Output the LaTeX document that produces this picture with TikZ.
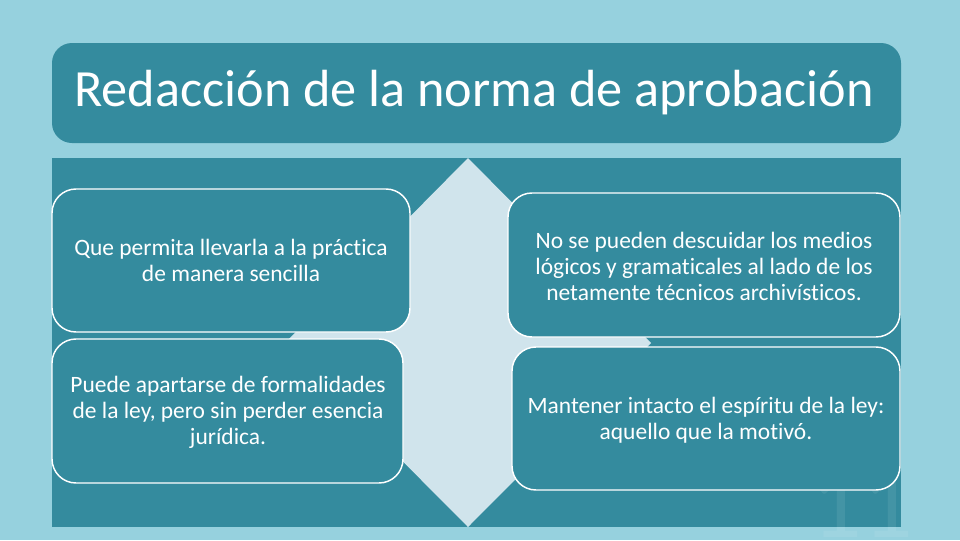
\documentclass[tikz,border=0pt]{standalone}
\usepackage{fontspec}
\setmainfont[Ligatures=NoCommon]{Carlito}
\usetikzlibrary{positioning}
\definecolor{slidebg}{RGB}{150,209,222}
\definecolor{tealbox}{RGB}{52,139,158}
\definecolor{diamondfill}{RGB}{208,228,236}
\tikzset{
  itembox/.style={fill=tealbox, draw=white, line width=1.1pt, rounded corners=18pt},
  itemtext/.style={text=white, align=center, font=\fontsize{17.6}{19.5}\selectfont},
}
\begin{document}
\begin{tikzpicture}[x=0.75pt,y=-0.75pt]
  \fill[slidebg] (0,0) rectangle (960,540);
  \useasboundingbox (0,0) rectangle (960,540);
  % title bar
  \fill[tealbox, rounded corners=15pt] (52,43) rectangle (901,143);
  \node[text=white, font=\fontsize{39.2}{45}\selectfont] (title) at (474,93) {Redacción de la norma de aprobación};
  % panel and diamond
  \fill[tealbox] (52,158) rectangle (901,527);
  \fill[diamondfill] (468,158) -- (651,343) -- (468,527) -- (285,343) -- cycle;
  % slide number
  \node[text=white, opacity=0.08, font=\fontsize{75}{75}\selectfont, anchor=base, inner sep=0pt] (slideno) at (862,537) {11};
  % four boxes
  \draw[itembox] (52,189) rectangle (410,332);
  \node[itemtext] (tl) at (231,260) {Que permita llevarla a la práctica\\de manera sencilla};
  \draw[itembox] (52,339) rectangle (403,483);
  \node[itemtext] (bl) at (228,412) {Puede apartarse de formalidades\\de la ley, pero sin perder esencia\\jurídica.};
  \draw[itembox] (508,193) rectangle (900,337);
  \node[itemtext] (tr) at (704,266) {No se pueden descuidar los medios\\lógicos y gramaticales al lado de los\\netamente técnicos archivísticos.};
  \draw[itembox] (512,347) rectangle (900,490);
  \node[itemtext] (br) at (706,420) {Mantener intacto el espíritu de la ley:\\aquello que la motivó.};
\end{tikzpicture}
\end{document}
